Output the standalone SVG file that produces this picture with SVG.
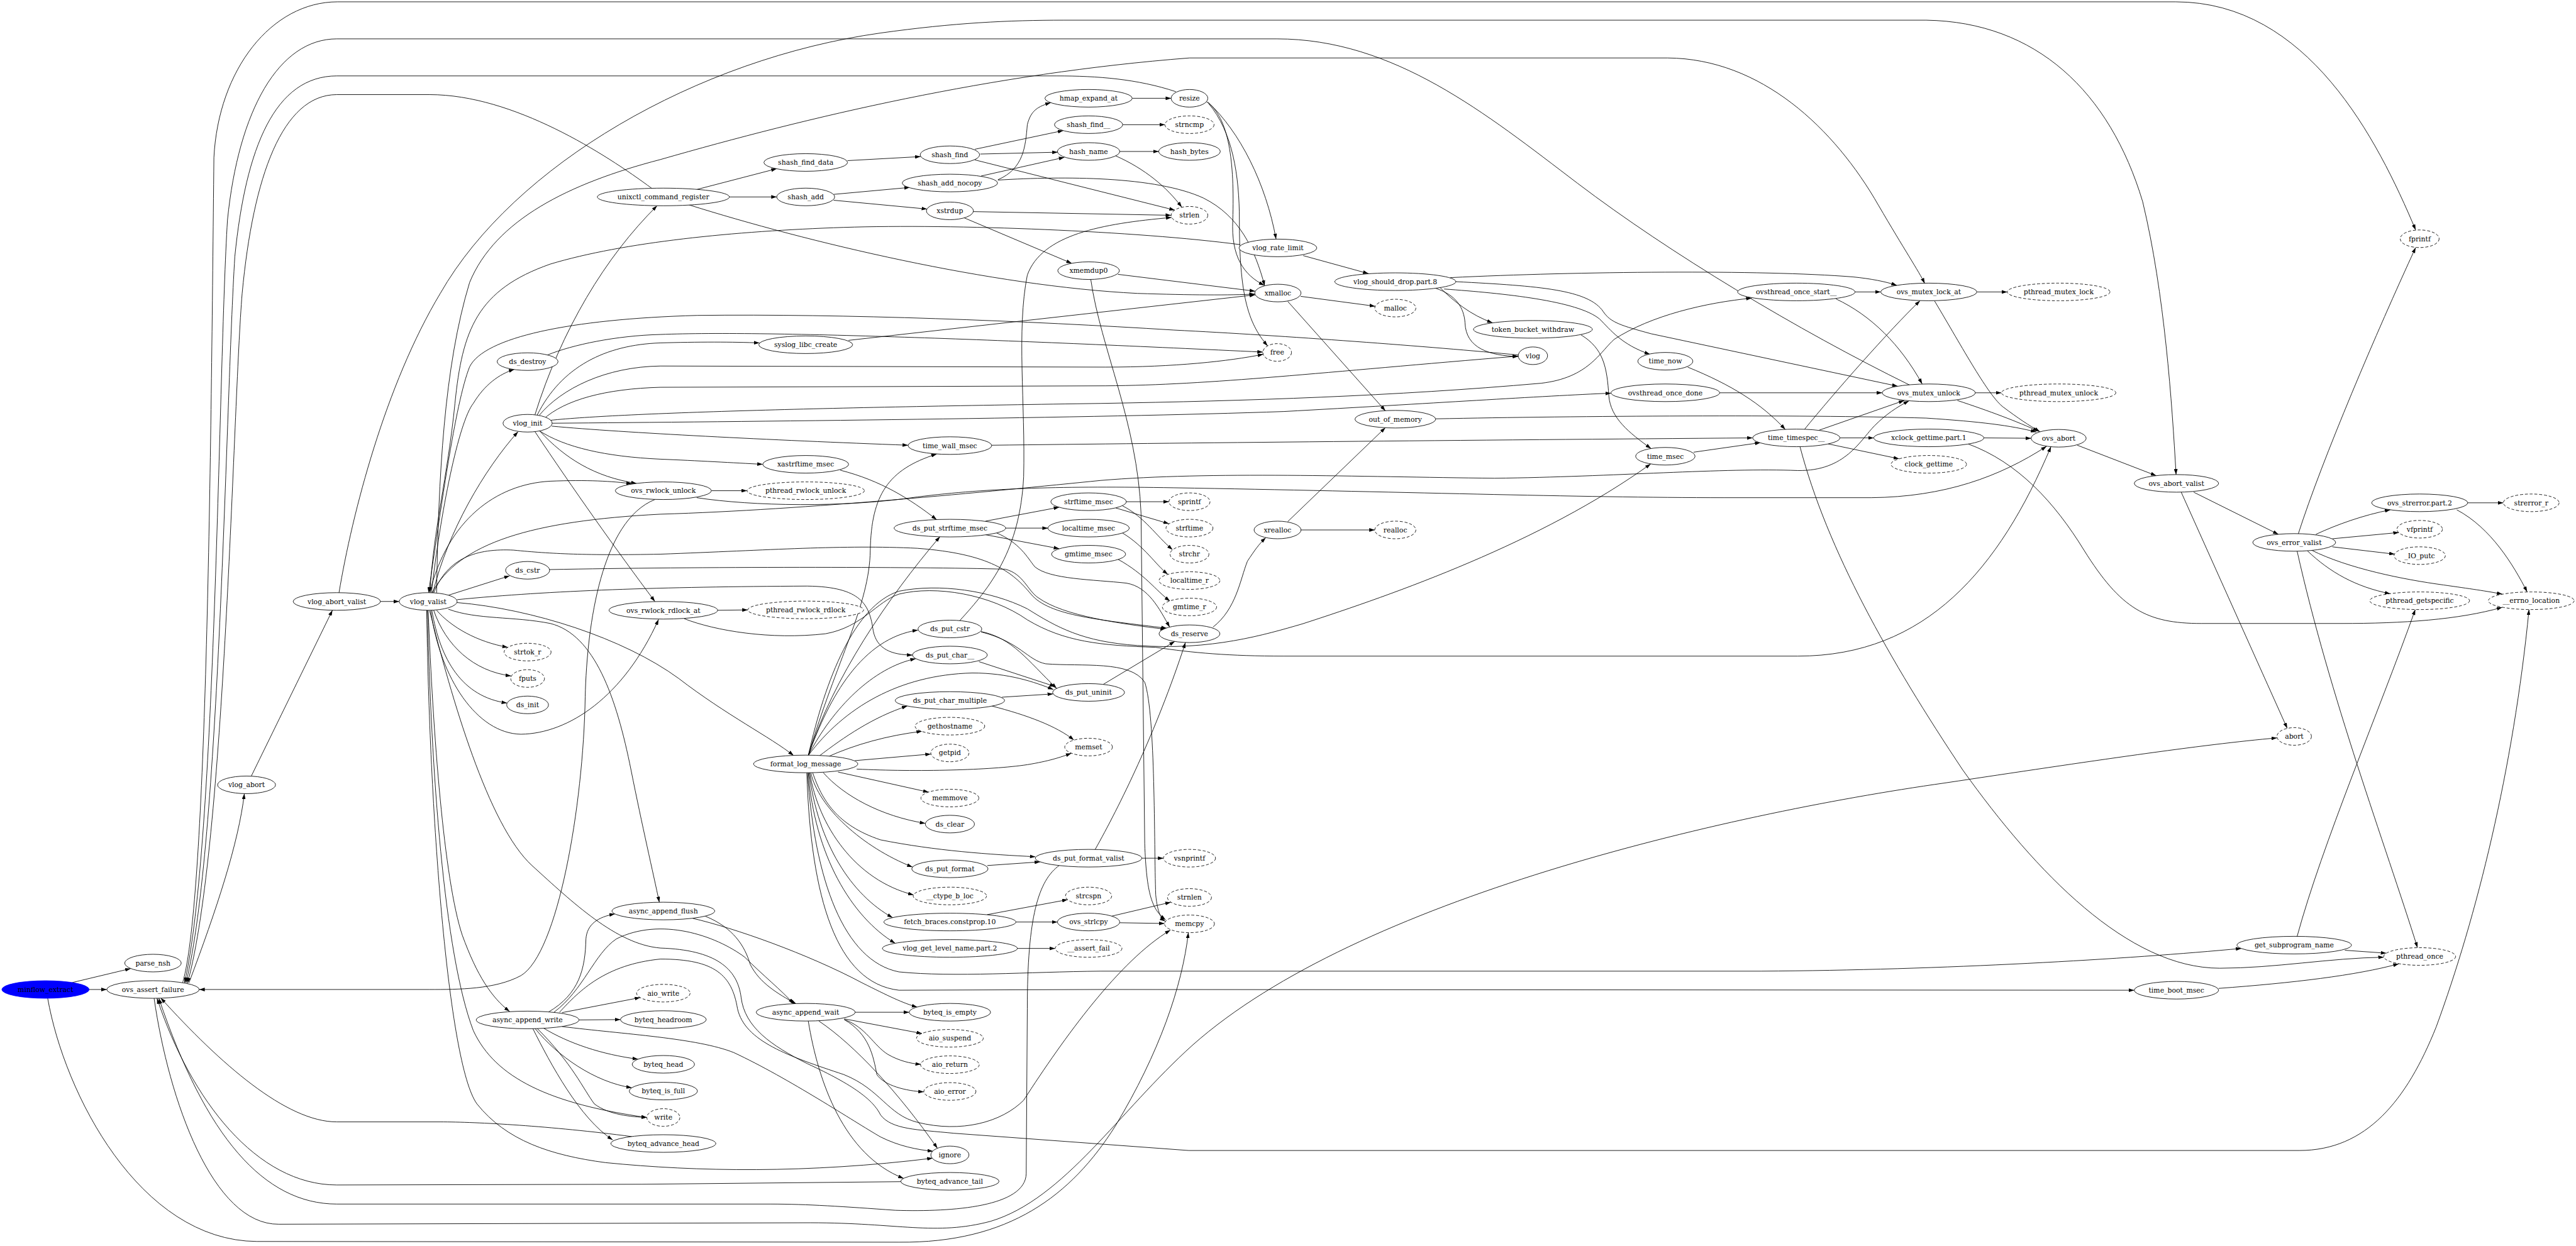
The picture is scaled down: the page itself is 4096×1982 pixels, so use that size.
<svg xmlns="http://www.w3.org/2000/svg" width="4096" height="1982" viewBox="0 0 4096 1982">
<defs>
<style>
.e path{fill:none;stroke:#000;stroke-width:1.5;marker-end:url(#a)}
.n ellipse{fill:#fff;stroke:#000;stroke-width:1.5}
.d ellipse{stroke-dasharray:8 5}
.n text{font-family:"DejaVu Serif","Liberation Serif",serif;font-size:18.67px;text-anchor:middle;fill:#000}
</style>
<marker id="a" markerWidth="15" markerHeight="10" refX="15" refY="5" orient="auto" markerUnits="userSpaceOnUse"><path d="M0,0 L15,5 L0,10 z" fill="#000"/></marker>
</defs>
<rect width="4096" height="1982" fill="#fff"/>
<g transform="scale(0.58339)">
<g id="edges" class="e">
<path d="M197,2679 L356,2641"/>
<path d="M243,2698 L291,2698"/>
<path d="M130,2722 C175,2980 380,3383 700,3385 L2450,3387 C2750,3390 2920,3260 3040,3070 C3160,2870 3222,2690 3239,2543"/>
<path d="M515,2680 C590,2480 650,2300 666,2164"/>
<path d="M498,2679 C565,2450 575,1200 583,430 C595,190 740,5 920,5 L5930,5 C6290,5 6480,380 6584,627"/>
<path d="M5205,1050 C4900,900 4550,690 4300,500 C4050,310 3800,106 3480,106 L918,106 C760,106 650,300 620,600 C595,1000 590,2300 503,2680"/>
<path d="M3205,250 C3100,215 2990,207 2880,207 L918,207 C750,207 670,400 640,700 C615,1100 600,2300 507,2680"/>
<path d="M1777,514 C1650,420 1400,258 1171,258 L918,258 C770,258 690,480 660,800 C635,1100 615,2300 511,2681"/>
<path d="M1785,1362 C1640,1420 1600,1700 1595,1900 C1590,2200 1520,2600 1420,2660 C1350,2698 1250,2698 1170,2698 L543,2698"/>
<path d="M1722,3099 C1500,3070 1300,3059 1200,3059 L918,3059 C780,3059 600,2900 438,2721"/>
<path d="M2455,3222 L1750,3229 L918,3231 C700,3231 520,3000 428,2722"/>
<path d="M2888,2359 C2830,2400 2800,2500 2800,2750 L2797,3200 C2795,3290 2600,3305 2440,3300 C2300,3290 2200,3283 2100,3283 L918,3283 C720,3283 560,3100 433,2722"/>
<path d="M420,2722 C460,3000 580,3340 760,3338 L2209,3334 C2450,3334 2550,3370 2700,3330 C2900,3270 3050,3030 3250,2850 C3700,2450 4700,2220 5300,2135 C5700,2075 6000,2030 6206,2012"/>
<path d="M685,2116 L906,1664"/>
<path d="M1037,1640 L1088,1640"/>
<path d="M924,1616 C960,1400 1050,1050 1200,800 C1400,450 1900,160 2400,90 C2600,62 2750,55 2900,55 L5250,55 C5550,60 5750,250 5840,550 C5900,800 5920,1100 5931,1294"/>
<path d="M1180,1616 C1220,1450 1320,1280 1412,1177"/>
<path d="M1176,1616 C1200,1400 1250,1150 1290,1100 C1320,1050 1360,1020 1402,1007"/>
<path d="M1171,1616 C1220,1420 1350,1320 1500,1312 C1600,1308 1670,1312 1722,1319"/>
<path d="M1470,1174 C1540,1250 1620,1300 1735,1318"/>
<path d="M1458,1177 C1560,1330 1680,1500 1785,1640"/>
<path d="M1222,1623 L1389,1570"/>
<path d="M1190,1664 C1230,1710 1300,1750 1384,1765"/>
<path d="M1182,1664 C1215,1760 1290,1830 1393,1843"/>
<path d="M1177,1664 C1200,1800 1260,1900 1382,1917"/>
<path d="M1174,1665 C1200,1850 1300,2000 1420,2002 C1550,2000 1700,1900 1795,1689"/>
<path d="M1246,1643 C1450,1660 1700,1740 1850,1850 C1980,1950 2100,2010 2163,2060"/>
<path d="M1246,1635 C1500,1610 1800,1600 2200,1598 C2350,1600 2370,1650 2380,1720 C2390,1770 2430,1786 2487,1786"/>
<path d="M1182,1617 C1220,1520 1300,1495 1400,1500 C1500,1510 1600,1515 1800,1511 C2100,1500 2300,1485 2500,1495 C2700,1510 2760,1560 2810,1620 C2860,1680 3000,1690 3180,1713"/>
<path d="M1498,1553 C1900,1545 2500,1545 2740,1552 C2790,1565 2800,1610 2830,1630 C2900,1680 3050,1700 3178,1716"/>
<path d="M1222,1661 C1300,1690 1400,1680 1500,1700 C1620,1730 1680,1900 1720,2100 C1750,2250 1780,2380 1797,2460"/>
<path d="M1167,1664 C1180,2000 1210,2400 1260,2550 C1300,2660 1340,2720 1389,2758"/>
<path d="M1165,1664 C1175,2100 1210,2600 1290,2810 C1350,2940 1500,3010 1763,3047"/>
<path d="M1163,1664 C1170,2200 1220,2900 1300,3010 C1380,3110 1500,3150 1650,3170 C1900,3195 2200,3200 2542,3158"/>
<path d="M1171,1665 C1230,1900 1330,2250 1450,2360 C1560,2460 1680,2575 1800,2585 C1950,2590 2010,2640 2020,2720 C2030,2800 2100,2850 2200,2900 C2330,2960 2380,3000 2400,3040 C2430,3080 2500,3080 2600,3090 L3240,3137 L6267,3137 C6450,3137 6560,3000 6640,2800 C6750,2500 6850,2100 6893,1662"/>
<path d="M1525,2760 C1580,2700 1650,2630 1800,2615 C1950,2615 1995,2660 2010,2750 C2030,2840 2150,2880 2300,2930 C2400,2970 2420,3040 2500,3060 C2620,3090 2730,3060 2790,3000 C2900,2830 3050,2620 3190,2536"/>
<path d="M1190,1616 C1195,1300 1210,1000 1280,770 C1350,600 1550,500 1800,435 C2200,320 2700,200 3242,158 L4545,158 C4800,160 5000,350 5120,560 C5190,680 5230,740 5246,773"/>
<path d="M3380,667 C3100,630 2600,610 2300,620 C2000,630 1700,660 1500,720 C1300,790 1260,900 1240,1100 C1220,1300 1180,1450 1172,1616"/>
<path d="M4139,968 C3900,945 3500,915 3200,900 C2800,875 2300,855 1900,860 C1550,870 1320,920 1280,1000 C1240,1100 1200,1400 1168,1616"/>
<path d="M1899,1357 C2050,1380 2300,1385 2500,1355 C2700,1330 2900,1325 3200,1330 C3800,1340 4300,1357 4700,1357 L5100,1357 C5300,1355 5450,1300 5578,1217"/>
<path d="M1177,1617 C1250,1480 1450,1420 1800,1402 C2200,1390 2700,1340 3000,1310 C3300,1285 3700,1300 4074,1304 C4400,1300 4700,1275 4900,1283 C5030,1285 5070,1200 5110,1160 C5140,1130 5170,1110 5203,1093"/>
<path d="M1865,1687 C1950,1720 2100,1745 2250,1728 C2350,1710 2390,1640 2450,1620 C2550,1595 2700,1620 2800,1690 C2900,1750 3000,1760 3150,1765 C3250,1780 3350,1789 3500,1789 L4900,1789 C5250,1789 5450,1550 5590,1218"/>
<path d="M1939,1338 L2036,1338"/>
<path d="M1956,1664 L2038,1663"/>
<path d="M2203,2060 C2250,1850 2330,1650 2450,1612 C2560,1590 2700,1610 2800,1660 C2880,1710 2950,1750 3100,1760 C3300,1775 3450,1730 3550,1701 C3800,1620 4200,1480 4499,1265"/>
<path d="M2203,2060 C2280,1800 2370,1650 2372,1500 C2375,1350 2420,1280 2553,1238"/>
<path d="M2203,2060 C2270,1850 2420,1630 2562,1463"/>
<path d="M2203,2060 C2260,1900 2350,1740 2502,1718"/>
<path d="M2203,2060 C2270,1930 2380,1820 2496,1796"/>
<path d="M2203,2060 C2300,1930 2450,1840 2650,1835 C2750,1835 2820,1860 2871,1880"/>
<path d="M2232,2062 C2300,2010 2380,1955 2473,1925"/>
<path d="M2255,2064 C2330,2030 2420,2005 2513,1994"/>
<path d="M2330,2074 L2537,2056"/>
<path d="M2335,2097 C2500,2105 2700,2100 2800,2085 C2860,2075 2890,2065 2920,2054"/>
<path d="M2284,2105 L2531,2160"/>
<path d="M2244,2107 C2300,2170 2400,2225 2522,2245"/>
<path d="M2215,2107 C2240,2180 2280,2250 2400,2290 C2550,2320 2700,2330 2822,2336"/>
<path d="M2210,2107 C2230,2200 2350,2310 2487,2364"/>
<path d="M2207,2107 C2230,2250 2330,2400 2490,2440"/>
<path d="M2205,2107 C2230,2300 2320,2440 2433,2502"/>
<path d="M2203,2107 C2220,2330 2320,2500 2440,2572"/>
<path d="M2201,2107 C2220,2400 2300,2620 2450,2650 C2600,2665 2800,2650 3000,2648 L4800,2648 C5300,2645 5800,2615 6109,2586"/>
<path d="M2199,2107 C2210,2450 2280,2680 2450,2700 L3000,2698 L5817,2700"/>
<path d="M2616,1692 C2700,1600 2780,1500 2790,1300 C2795,1100 2770,900 2800,750 C2840,640 3000,610 3193,593"/>
<path d="M2674,1722 C2760,1740 2800,1800 2880,1877"/>
<path d="M2674,1723 C2780,1750 2800,1800 2850,1810 C2950,1818 3080,1800 3120,1860 C3150,1950 3145,2300 3150,2440 C3155,2490 3165,2505 3176,2512"/>
<path d="M2973,762 C3000,950 3100,1150 3110,1400 L3120,2300 C3125,2440 3140,2480 3177,2508"/>
<path d="M3052,2516 L3174,2518"/>
<path d="M3030,2498 L3191,2460"/>
<path d="M2690,2494 L2910,2453"/>
<path d="M2769,2514 L2882,2514"/>
<path d="M2773,2586 L2876,2586"/>
<path d="M2691,2360 L2835,2350"/>
<path d="M3112,2340 L3171,2340"/>
<path d="M2985,2316 C3050,2200 3150,2000 3231,1752"/>
<path d="M3007,1866 L3202,1749"/>
<path d="M2668,1804 L2876,1872"/>
<path d="M2731,1901 L2870,1892"/>
<path d="M2703,1925 C2800,1950 2880,1980 2927,2018"/>
<path d="M3306,1710 C3370,1660 3380,1580 3400,1530 C3420,1500 3430,1485 3450,1466"/>
<path d="M3546,1445 L3747,1445"/>
<path d="M3510,1422 L3776,1166"/>
<path d="M3510,822 L3776,1120"/>
<path d="M3545,808 L3748,835"/>
<path d="M2686,1421 L2887,1383"/>
<path d="M2741,1440 L2856,1440"/>
<path d="M2686,1458 L2887,1496"/>
<path d="M2714,1452 C2780,1480 2800,1520 2820,1545 C2860,1580 2980,1580 3070,1590 C3130,1600 3160,1660 3188,1710"/>
<path d="M3070,1368 L3186,1368"/>
<path d="M3041,1385 L3186,1428"/>
<path d="M3059,1379 C3120,1410 3150,1460 3196,1499"/>
<path d="M3059,1453 C3120,1490 3150,1540 3183,1566"/>
<path d="M3047,1525 C3120,1565 3150,1610 3189,1639"/>
<path d="M2290,1282 C2400,1310 2480,1360 2553,1417"/>
<path d="M1469,1174 C1540,1220 1650,1245 1800,1252 C1900,1256 2000,1262 2079,1266"/>
<path d="M1504,1162 C1700,1180 2100,1200 2475,1214"/>
<path d="M2703,1214 C3200,1208 4000,1200 4777,1194"/>
<path d="M1500,1146 C1700,1125 2300,1110 3000,1100 C3400,1093 3800,1080 4200,1045 C4330,1030 4360,960 4400,925 C4500,860 4650,825 4774,813"/>
<path d="M1505,1154 C2000,1150 3000,1140 3500,1122 C3900,1100 4200,1080 4391,1072"/>
<path d="M1481,1143 C1540,1090 1650,1060 1800,1056 L3013,1052 C3300,1050 3600,1015 4138,971"/>
<path d="M1470,1132 C1530,1060 1650,1000 1800,998 L3013,1001 C3200,1001 3350,985 3443,966"/>
<path d="M1464,1132 C1530,1000 1650,940 1800,935 C1900,932 2000,932 2070,935"/>
<path d="M1458,1131 C1530,900 1650,700 1791,561"/>
<path d="M1492,968 C1560,940 1680,915 1800,912 C2100,900 2800,930 3442,960"/>
<path d="M2313,928 L3421,804"/>
<path d="M1876,558 C2200,660 2700,780 3100,800 C3250,805 3350,805 3420,802"/>
<path d="M1894,518 L2117,460"/>
<path d="M1988,537 L2117,537"/>
<path d="M2310,438 L2509,427"/>
<path d="M2272,530 L2480,511"/>
<path d="M2272,546 L2527,570"/>
<path d="M2657,407 L2898,356"/>
<path d="M2672,420 L2883,415"/>
<path d="M2657,436 L3202,573"/>
<path d="M2674,480 L2901,429"/>
<path d="M2720,490 C2790,460 2795,400 2800,340 C2810,300 2830,290 2864,280"/>
<path d="M2720,491 C2900,480 3150,480 3280,540 C3380,590 3420,680 3447,779"/>
<path d="M2653,577 L3192,587"/>
<path d="M2628,594 L2921,718"/>
<path d="M3047,748 L3421,794"/>
<path d="M3086,268 L3192,268"/>
<path d="M3060,340 L3175,340"/>
<path d="M3052,413 L3158,413"/>
<path d="M3041,425 C3120,460 3180,510 3221,565"/>
<path d="M3292,278 C3380,360 3450,500 3478,652"/>
<path d="M3288,277 C3350,320 3365,440 3360,600 C3355,700 3390,750 3446,778"/>
<path d="M3294,282 C3360,360 3378,480 3378,600 C3378,800 3400,880 3455,943"/>
<path d="M3552,697 L3730,746"/>
<path d="M3953,757 C4300,740 4800,735 5050,755 C5100,760 5140,768 5170,778"/>
<path d="M3968,768 C4200,780 4330,790 4370,850 C4390,880 4420,888 4500,910 L5172,1053"/>
<path d="M3925,784 C3960,820 4010,860 4068,880"/>
<path d="M3913,786 C3970,805 3990,840 3993,880 C3995,950 4060,970 4138,972"/>
<path d="M3936,788 C4100,800 4300,820 4360,870 C4390,900 4420,940 4497,966"/>
<path d="M4309,913 C4370,950 4380,1000 4385,1080 C4390,1140 4440,1180 4500,1223"/>
<path d="M4600,1001 C4720,1050 4800,1100 4866,1171"/>
<path d="M4616,1233 L4798,1207"/>
<path d="M5056,796 L5126,796"/>
<path d="M5004,815 C5100,860 5180,940 5239,1047"/>
<path d="M4687,1071 L5130,1071"/>
<path d="M5388,796 L5471,796"/>
<path d="M5384,1071 L5455,1071"/>
<path d="M5273,821 C5350,950 5420,1080 5460,1110 C5500,1140 5530,1160 5560,1177"/>
<path d="M5335,1092 C5420,1120 5500,1150 5556,1176"/>
<path d="M3913,1142 C4300,1134 4900,1130 5250,1140 C5400,1150 5480,1160 5550,1178"/>
<path d="M5015,1194 L5107,1194"/>
<path d="M4981,1210 L5176,1251"/>
<path d="M4918,1171 C5000,1070 5150,900 5233,820"/>
<path d="M4958,1173 L5190,1092"/>
<path d="M4906,1218 C4980,1500 5150,1800 5350,2100 C5550,2380 5800,2640 6050,2640 C6200,2640 6350,2612 6497,2610"/>
<path d="M5407,1194 L5536,1195"/>
<path d="M5363,1210 C5500,1260 5600,1370 5680,1500 C5780,1660 5850,1700 6000,1700 L6380,1700 C6550,1700 6700,1690 6820,1656"/>
<path d="M5662,1214 L5877,1297"/>
<path d="M5979,1342 L6210,1457"/>
<path d="M5945,1342 L6234,1986"/>
<path d="M6312,1457 C6370,1430 6440,1405 6515,1390"/>
<path d="M6357,1469 L6538,1452"/>
<path d="M6357,1491 L6527,1511"/>
<path d="M6289,1502 C6350,1560 6420,1600 6515,1619"/>
<path d="M6300,1500 C6400,1550 6550,1580 6660,1595 C6730,1605 6780,1612 6820,1620"/>
<path d="M6264,1456 C6330,1250 6480,900 6584,675"/>
<path d="M6261,1503 C6350,1900 6500,2300 6589,2584"/>
<path d="M6726,1371 L6823,1371"/>
<path d="M6696,1390 C6790,1440 6850,1540 6888,1614"/>
<path d="M6391,2591 L6504,2599"/>
<path d="M6261,2553 C6330,2300 6480,1950 6583,1662"/>
<path d="M6047,2695 C6250,2680 6420,2660 6538,2628"/>
<path d="M1494,2760 C1580,2710 1595,2640 1597,2560 C1600,2520 1630,2500 1676,2492"/>
<path d="M1510,2760 C1590,2700 1620,2600 1680,2560 C1800,2500 1950,2550 2030,2610 C2080,2660 2130,2700 2163,2737"/>
<path d="M1922,2498 C2000,2530 2030,2580 2045,2630 C2070,2680 2120,2710 2170,2737"/>
<path d="M1888,2504 C2000,2530 2200,2600 2350,2680 C2420,2715 2460,2735 2500,2746"/>
<path d="M1532,2761 L1745,2720"/>
<path d="M1578,2781 L1691,2780"/>
<path d="M1481,2803 C1550,2845 1640,2875 1739,2888"/>
<path d="M1458,2804 C1520,2880 1620,2950 1722,2966"/>
<path d="M1464,2804 C1560,2900 1590,2970 1620,3010 C1660,3040 1720,3045 1763,3047"/>
<path d="M1452,2804 C1500,2900 1580,3050 1670,3108"/>
<path d="M1532,2799 C1700,2820 1900,2830 2000,2870 C2150,2940 2330,3060 2400,3100 C2450,3125 2500,3135 2543,3139"/>
<path d="M2331,2760 L2478,2760"/>
<path d="M2301,2778 L2513,2818"/>
<path d="M2301,2780 C2360,2800 2380,2850 2420,2875 C2450,2892 2480,2900 2510,2902"/>
<path d="M2301,2780 C2370,2820 2380,2880 2390,2930 C2410,2960 2470,2975 2518,2977"/>
<path d="M2232,2784 C2330,2850 2450,2980 2555,3131"/>
<path d="M2203,2784 C2230,2950 2300,3150 2463,3213"/>
</g>
<g id="nodes">
<g id="minflow_extract" class="n"><ellipse cx="124" cy="2698" rx="119" ry="24" style="fill:#0000ff;stroke:#0000ff"/><text x="124" y="2704.5">minflow_extract</text></g>
<g id="parse_nsh" class="n"><ellipse cx="417" cy="2626" rx="77" ry="24"/><text x="417" y="2632.5">parse_nsh</text></g>
<g id="ovs_assert_failure" class="n"><ellipse cx="417" cy="2698" rx="126" ry="24"/><text x="417" y="2704.5">ovs_assert_failure</text></g>
<g id="vlog_abort" class="n"><ellipse cx="672" cy="2140" rx="79" ry="24"/><text x="672" y="2146.5">vlog_abort</text></g>
<g id="vlog_abort_valist" class="n"><ellipse cx="918" cy="1640" rx="119" ry="24"/><text x="918" y="1646.5">vlog_abort_valist</text></g>
<g id="vlog_valist" class="n"><ellipse cx="1167" cy="1640" rx="79" ry="24"/><text x="1167" y="1646.5">vlog_valist</text></g>
<g id="ds_destroy" class="n"><ellipse cx="1438" cy="986" rx="83" ry="24"/><text x="1438" y="992.5">ds_destroy</text></g>
<g id="vlog_init" class="n"><ellipse cx="1438" cy="1154" rx="67" ry="24"/><text x="1438" y="1160.5">vlog_init</text></g>
<g id="ds_cstr" class="n"><ellipse cx="1438" cy="1555" rx="60" ry="24"/><text x="1438" y="1561.5">ds_cstr</text></g>
<g id="strtok_r" class="n d"><ellipse cx="1438" cy="1778" rx="64" ry="24"/><text x="1438" y="1784.5">strtok_r</text></g>
<g id="fputs" class="n d"><ellipse cx="1438" cy="1850" rx="46" ry="24"/><text x="1438" y="1856.5">fputs</text></g>
<g id="ds_init" class="n"><ellipse cx="1438" cy="1922" rx="57" ry="24"/><text x="1438" y="1928.5">ds_init</text></g>
<g id="async_append_write" class="n"><ellipse cx="1438" cy="2781" rx="140" ry="24"/><text x="1438" y="2787.5">async_append_write</text></g>
<g id="unixctl_command_register" class="n"><ellipse cx="1808" cy="537" rx="180" ry="24"/><text x="1808" y="543.5">unixctl_command_register</text></g>
<g id="ovs_rwlock_unlock" class="n"><ellipse cx="1808" cy="1338" rx="131" ry="24"/><text x="1808" y="1344.5">ovs_rwlock_unlock</text></g>
<g id="ovs_rwlock_rdlock_at" class="n"><ellipse cx="1808" cy="1664" rx="148" ry="24"/><text x="1808" y="1670.5">ovs_rwlock_rdlock_at</text></g>
<g id="async_append_flush" class="n"><ellipse cx="1808" cy="2484" rx="140" ry="24"/><text x="1808" y="2490.5">async_append_flush</text></g>
<g id="aio_write" class="n d"><ellipse cx="1808" cy="2708" rx="73" ry="24"/><text x="1808" y="2714.5">aio_write</text></g>
<g id="byteq_headroom" class="n"><ellipse cx="1808" cy="2780" rx="117" ry="24"/><text x="1808" y="2786.5">byteq_headroom</text></g>
<g id="byteq_head" class="n"><ellipse cx="1808" cy="2902" rx="85" ry="24"/><text x="1808" y="2908.5">byteq_head</text></g>
<g id="byteq_is_full" class="n"><ellipse cx="1808" cy="2975" rx="93" ry="24"/><text x="1808" y="2981.5">byteq_is_full</text></g>
<g id="write" class="n d"><ellipse cx="1808" cy="3047" rx="45" ry="24"/><text x="1808" y="3053.5">write</text></g>
<g id="byteq_advance_head" class="n"><ellipse cx="1808" cy="3118" rx="143" ry="24"/><text x="1808" y="3124.5">byteq_advance_head</text></g>
<g id="shash_find_data" class="n"><ellipse cx="2196" cy="443" rx="114" ry="24"/><text x="2196" y="449.5">shash_find_data</text></g>
<g id="shash_add" class="n"><ellipse cx="2196" cy="537" rx="79" ry="24"/><text x="2196" y="543.5">shash_add</text></g>
<g id="syslog_libc_create" class="n"><ellipse cx="2196" cy="940" rx="128" ry="24"/><text x="2196" y="946.5">syslog_libc_create</text></g>
<g id="xastrftime_msec" class="n"><ellipse cx="2196" cy="1266" rx="117" ry="24"/><text x="2196" y="1272.5">xastrftime_msec</text></g>
<g id="pthread_rwlock_unlock" class="n d"><ellipse cx="2196" cy="1338" rx="160" ry="24"/><text x="2196" y="1344.5">pthread_rwlock_unlock</text></g>
<g id="pthread_rwlock_rdlock" class="n d"><ellipse cx="2196" cy="1663" rx="158" ry="24"/><text x="2196" y="1669.5">pthread_rwlock_rdlock</text></g>
<g id="format_log_message" class="n"><ellipse cx="2196" cy="2083" rx="142" ry="24"/><text x="2196" y="2089.5">format_log_message</text></g>
<g id="async_append_wait" class="n"><ellipse cx="2196" cy="2760" rx="135" ry="24"/><text x="2196" y="2766.5">async_append_wait</text></g>
<g id="shash_find" class="n"><ellipse cx="2589" cy="422" rx="81" ry="24"/><text x="2589" y="428.5">shash_find</text></g>
<g id="shash_add_nocopy" class="n"><ellipse cx="2589" cy="499" rx="130" ry="24"/><text x="2589" y="505.5">shash_add_nocopy</text></g>
<g id="xstrdup" class="n"><ellipse cx="2589" cy="575" rx="64" ry="24"/><text x="2589" y="581.5">xstrdup</text></g>
<g id="time_wall_msec" class="n"><ellipse cx="2589" cy="1215" rx="114" ry="24"/><text x="2589" y="1221.5">time_wall_msec</text></g>
<g id="ds_put_strftime_msec" class="n"><ellipse cx="2589" cy="1440" rx="152" ry="24"/><text x="2589" y="1446.5">ds_put_strftime_msec</text></g>
<g id="ds_put_cstr" class="n"><ellipse cx="2589" cy="1715" rx="87" ry="24"/><text x="2589" y="1721.5">ds_put_cstr</text></g>
<g id="ds_put_char__" class="n"><ellipse cx="2589" cy="1786" rx="102" ry="24"/><text x="2589" y="1792.5">ds_put_char__</text></g>
<g id="ds_put_char_multiple" class="n"><ellipse cx="2589" cy="1910" rx="149" ry="24"/><text x="2589" y="1916.5">ds_put_char_multiple</text></g>
<g id="gethostname" class="n d"><ellipse cx="2589" cy="1980" rx="95" ry="24"/><text x="2589" y="1986.5">gethostname</text></g>
<g id="getpid" class="n d"><ellipse cx="2589" cy="2053" rx="52" ry="24"/><text x="2589" y="2059.5">getpid</text></g>
<g id="memmove" class="n d"><ellipse cx="2589" cy="2176" rx="79" ry="24"/><text x="2589" y="2182.5">memmove</text></g>
<g id="ds_clear" class="n"><ellipse cx="2589" cy="2247" rx="67" ry="24"/><text x="2589" y="2253.5">ds_clear</text></g>
<g id="ds_put_format" class="n"><ellipse cx="2589" cy="2369" rx="104" ry="24"/><text x="2589" y="2375.5">ds_put_format</text></g>
<g id="__ctype_b_loc" class="n d"><ellipse cx="2589" cy="2443" rx="100" ry="24"/><text x="2589" y="2449.5">__ctype_b_loc</text></g>
<g id="fetch_braces_constprop_10" class="n"><ellipse cx="2589" cy="2514" rx="180" ry="24"/><text x="2589" y="2520.5">fetch_braces.constprop.10</text></g>
<g id="vlog_get_level_name_part_2" class="n"><ellipse cx="2589" cy="2586" rx="184" ry="24"/><text x="2589" y="2592.5">vlog_get_level_name.part.2</text></g>
<g id="byteq_is_empty" class="n"><ellipse cx="2589" cy="2760" rx="111" ry="24"/><text x="2589" y="2766.5">byteq_is_empty</text></g>
<g id="aio_suspend" class="n d"><ellipse cx="2589" cy="2831" rx="91" ry="24"/><text x="2589" y="2837.5">aio_suspend</text></g>
<g id="aio_return" class="n d"><ellipse cx="2589" cy="2903" rx="80" ry="24"/><text x="2589" y="2909.5">aio_return</text></g>
<g id="aio_error" class="n d"><ellipse cx="2589" cy="2976" rx="71" ry="24"/><text x="2589" y="2982.5">aio_error</text></g>
<g id="ignore" class="n"><ellipse cx="2589" cy="3149" rx="52" ry="24"/><text x="2589" y="3155.5">ignore</text></g>
<g id="byteq_advance_tail" class="n"><ellipse cx="2589" cy="3221" rx="134" ry="24"/><text x="2589" y="3227.5">byteq_advance_tail</text></g>
<g id="hmap_expand_at" class="n"><ellipse cx="2967" cy="268" rx="119" ry="24"/><text x="2967" y="274.5">hmap_expand_at</text></g>
<g id="shash_find__" class="n"><ellipse cx="2967" cy="340" rx="93" ry="24"/><text x="2967" y="346.5">shash_find__</text></g>
<g id="hash_name" class="n"><ellipse cx="2967" cy="413" rx="85" ry="24"/><text x="2967" y="419.5">hash_name</text></g>
<g id="xmemdup0" class="n"><ellipse cx="2967" cy="738" rx="84" ry="24"/><text x="2967" y="744.5">xmemdup0</text></g>
<g id="strftime_msec" class="n"><ellipse cx="2967" cy="1368" rx="103" ry="24"/><text x="2967" y="1374.5">strftime_msec</text></g>
<g id="localtime_msec" class="n"><ellipse cx="2967" cy="1440" rx="111" ry="24"/><text x="2967" y="1446.5">localtime_msec</text></g>
<g id="gmtime_msec" class="n"><ellipse cx="2967" cy="1511" rx="101" ry="24"/><text x="2967" y="1517.5">gmtime_msec</text></g>
<g id="ds_put_uninit" class="n"><ellipse cx="2967" cy="1888" rx="98" ry="24"/><text x="2967" y="1894.5">ds_put_uninit</text></g>
<g id="memset" class="n d"><ellipse cx="2967" cy="2037" rx="65" ry="24"/><text x="2967" y="2043.5">memset</text></g>
<g id="ds_put_format_valist" class="n"><ellipse cx="2967" cy="2340" rx="145" ry="24"/><text x="2967" y="2346.5">ds_put_format_valist</text></g>
<g id="strcspn" class="n d"><ellipse cx="2967" cy="2443" rx="63" ry="24"/><text x="2967" y="2449.5">strcspn</text></g>
<g id="ovs_strlcpy" class="n"><ellipse cx="2967" cy="2514" rx="85" ry="24"/><text x="2967" y="2520.5">ovs_strlcpy</text></g>
<g id="__assert_fail" class="n d"><ellipse cx="2967" cy="2586" rx="91" ry="24"/><text x="2967" y="2592.5">__assert_fail</text></g>
<g id="resize" class="n"><ellipse cx="3242" cy="268" rx="50" ry="24"/><text x="3242" y="274.5">resize</text></g>
<g id="strncmp" class="n d"><ellipse cx="3242" cy="340" rx="67" ry="24"/><text x="3242" y="346.5">strncmp</text></g>
<g id="hash_bytes" class="n"><ellipse cx="3242" cy="413" rx="84" ry="24"/><text x="3242" y="419.5">hash_bytes</text></g>
<g id="strlen" class="n d"><ellipse cx="3242" cy="587" rx="50" ry="24"/><text x="3242" y="593.5">strlen</text></g>
<g id="sprintf" class="n d"><ellipse cx="3242" cy="1368" rx="56" ry="24"/><text x="3242" y="1374.5">sprintf</text></g>
<g id="strftime" class="n d"><ellipse cx="3242" cy="1440" rx="64" ry="24"/><text x="3242" y="1446.5">strftime</text></g>
<g id="strchr" class="n d"><ellipse cx="3242" cy="1511" rx="53" ry="24"/><text x="3242" y="1517.5">strchr</text></g>
<g id="localtime_r" class="n d"><ellipse cx="3242" cy="1583" rx="83" ry="24"/><text x="3242" y="1589.5">localtime_r</text></g>
<g id="gmtime_r" class="n d"><ellipse cx="3242" cy="1655" rx="74" ry="24"/><text x="3242" y="1661.5">gmtime_r</text></g>
<g id="ds_reserve" class="n"><ellipse cx="3242" cy="1728" rx="83" ry="24"/><text x="3242" y="1734.5">ds_reserve</text></g>
<g id="vsnprintf" class="n d"><ellipse cx="3242" cy="2340" rx="71" ry="24"/><text x="3242" y="2346.5">vsnprintf</text></g>
<g id="strnlen" class="n d"><ellipse cx="3242" cy="2447" rx="60" ry="24"/><text x="3242" y="2453.5">strnlen</text></g>
<g id="memcpy" class="n d"><ellipse cx="3242" cy="2519" rx="68" ry="24"/><text x="3242" y="2525.5">memcpy</text></g>
<g id="vlog_rate_limit" class="n"><ellipse cx="3483" cy="676" rx="106" ry="24"/><text x="3483" y="682.5">vlog_rate_limit</text></g>
<g id="xmalloc" class="n"><ellipse cx="3483" cy="799" rx="63" ry="24"/><text x="3483" y="805.5">xmalloc</text></g>
<g id="free" class="n d"><ellipse cx="3481" cy="961" rx="39" ry="24"/><text x="3481" y="967.5">free</text></g>
<g id="xrealloc" class="n"><ellipse cx="3482" cy="1445" rx="64" ry="24"/><text x="3482" y="1451.5">xrealloc</text></g>
<g id="vlog_should_drop_part_8" class="n"><ellipse cx="3803" cy="768" rx="165" ry="24"/><text x="3803" y="774.5">vlog_should_drop.part.8</text></g>
<g id="malloc" class="n d"><ellipse cx="3803" cy="840" rx="56" ry="24"/><text x="3803" y="846.5">malloc</text></g>
<g id="out_of_memory" class="n"><ellipse cx="3803" cy="1143" rx="110" ry="24"/><text x="3803" y="1149.5">out_of_memory</text></g>
<g id="realloc" class="n d"><ellipse cx="3803" cy="1445" rx="56" ry="24"/><text x="3803" y="1451.5">realloc</text></g>
<g id="token_bucket_withdraw" class="n"><ellipse cx="4178" cy="898" rx="162" ry="24"/><text x="4178" y="904.5">token_bucket_withdraw</text></g>
<g id="vlog" class="n"><ellipse cx="4178" cy="970" rx="40" ry="24"/><text x="4178" y="976.5">vlog</text></g>
<g id="time_now" class="n"><ellipse cx="4539" cy="985" rx="75" ry="24"/><text x="4539" y="991.5">time_now</text></g>
<g id="ovsthread_once_done" class="n"><ellipse cx="4539" cy="1071" rx="148" ry="24"/><text x="4539" y="1077.5">ovsthread_once_done</text></g>
<g id="time_msec" class="n"><ellipse cx="4539" cy="1244" rx="81" ry="24"/><text x="4539" y="1250.5">time_msec</text></g>
<g id="ovsthread_once_start__" class="n"><ellipse cx="4896" cy="796" rx="160" ry="24"/><text x="4896" y="802.5">ovsthread_once_start__</text></g>
<g id="time_timespec__" class="n"><ellipse cx="4896" cy="1194" rx="119" ry="24"/><text x="4896" y="1200.5">time_timespec__</text></g>
<g id="ovs_mutex_lock_at" class="n"><ellipse cx="5257" cy="796" rx="131" ry="24"/><text x="5257" y="802.5">ovs_mutex_lock_at</text></g>
<g id="ovs_mutex_unlock" class="n"><ellipse cx="5257" cy="1071" rx="127" ry="24"/><text x="5257" y="1077.5">ovs_mutex_unlock</text></g>
<g id="xclock_gettime_part_1" class="n"><ellipse cx="5257" cy="1194" rx="150" ry="24"/><text x="5257" y="1200.5">xclock_gettime.part.1</text></g>
<g id="clock_gettime" class="n d"><ellipse cx="5257" cy="1266" rx="103" ry="24"/><text x="5257" y="1272.5">clock_gettime</text></g>
<g id="pthread_mutex_lock" class="n d"><ellipse cx="5611" cy="796" rx="140" ry="24"/><text x="5611" y="802.5">pthread_mutex_lock</text></g>
<g id="pthread_mutex_unlock" class="n d"><ellipse cx="5611" cy="1071" rx="156" ry="24"/><text x="5611" y="1077.5">pthread_mutex_unlock</text></g>
<g id="ovs_abort" class="n"><ellipse cx="5611" cy="1195" rx="75" ry="24"/><text x="5611" y="1201.5">ovs_abort</text></g>
<g id="ovs_abort_valist" class="n"><ellipse cx="5932" cy="1318" rx="115" ry="24"/><text x="5932" y="1324.5">ovs_abort_valist</text></g>
<g id="time_boot_msec" class="n"><ellipse cx="5932" cy="2700" rx="115" ry="24"/><text x="5932" y="2706.5">time_boot_msec</text></g>
<g id="ovs_error_valist" class="n"><ellipse cx="6253" cy="1479" rx="113" ry="24"/><text x="6253" y="1485.5">ovs_error_valist</text></g>
<g id="abort" class="n d"><ellipse cx="6253" cy="2008" rx="47" ry="24"/><text x="6253" y="2014.5">abort</text></g>
<g id="get_subprogram_name" class="n"><ellipse cx="6253" cy="2577" rx="156" ry="24"/><text x="6253" y="2583.5">get_subprogram_name</text></g>
<g id="fprintf" class="n d"><ellipse cx="6595" cy="651" rx="53" ry="24"/><text x="6595" y="657.5">fprintf</text></g>
<g id="ovs_strerror_part_2" class="n"><ellipse cx="6595" cy="1371" rx="131" ry="24"/><text x="6595" y="1377.5">ovs_strerror.part.2</text></g>
<g id="vfprintf" class="n d"><ellipse cx="6595" cy="1443" rx="62" ry="24"/><text x="6595" y="1449.5">vfprintf</text></g>
<g id="_IO_putc" class="n d"><ellipse cx="6595" cy="1515" rx="70" ry="24"/><text x="6595" y="1521.5">_IO_putc</text></g>
<g id="pthread_getspecific" class="n d"><ellipse cx="6595" cy="1638" rx="136" ry="24"/><text x="6595" y="1644.5">pthread_getspecific</text></g>
<g id="pthread_once" class="n d"><ellipse cx="6595" cy="2608" rx="98" ry="24"/><text x="6595" y="2614.5">pthread_once</text></g>
<g id="strerror_r" class="n d"><ellipse cx="6899" cy="1371" rx="76" ry="24"/><text x="6899" y="1377.5">strerror_r</text></g>
<g id="__errno_location" class="n d"><ellipse cx="6899" cy="1638" rx="117" ry="24"/><text x="6899" y="1644.5">__errno_location</text></g>
</g>
</g>
</svg>
